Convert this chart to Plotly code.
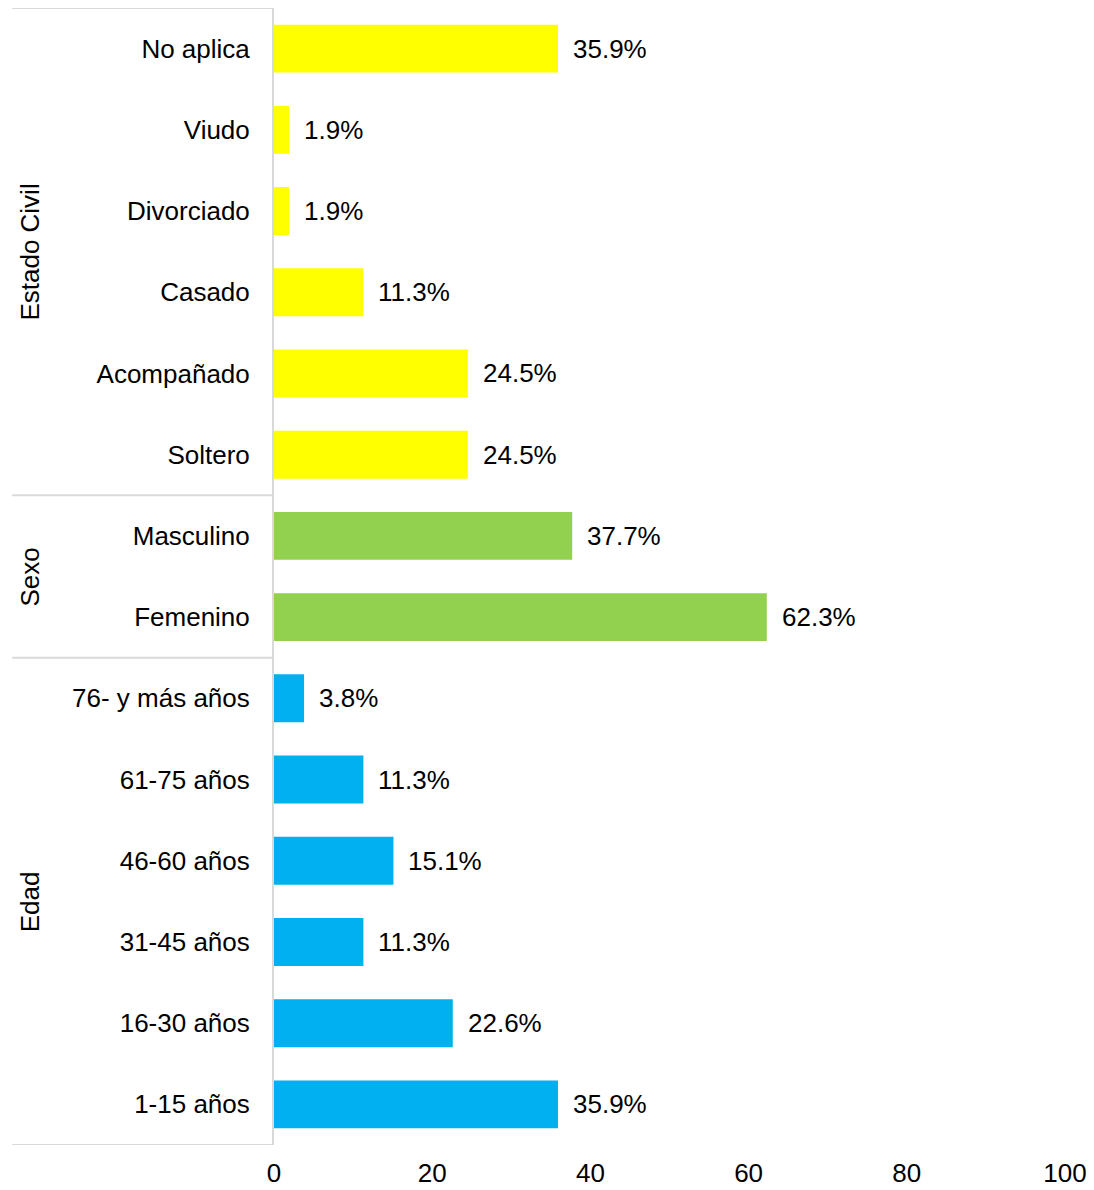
import plotly.graph_objects as go

# Categories listed bottom-to-top, grouped by variable
edad_labels = ["1-15 años", "16-30 años", "31-45 años", "46-60 años", "61-75 años", "76- y más años"]
edad_values = [35.9, 22.6, 11.3, 15.1, 11.3, 3.8]

sexo_labels = ["Femenino", "Masculino"]
sexo_values = [62.3, 37.7]

civil_labels = ["Soltero", "Acompañado", "Casado", "Divorciado", "Viudo", "No aplica"]
civil_values = [24.5, 24.5, 11.3, 1.9, 1.9, 35.9]

x_ticks = [0, 20, 40, 60, 80, 100]

groups = [
    ("Edad", edad_labels, edad_values, "#00B0F0"),
    ("Sexo", sexo_labels, sexo_values, "#92D050"),
    ("Estado Civil", civil_labels, civil_values, "#FFFF00"),
]

FONT = "Liberation Sans, Arial, sans-serif"
FS = 26
all_labels = edad_labels + sexo_labels + civil_labels

fig = go.Figure()
annotations = []
shapes = []
start = 0
for name, labels, values, color in groups:
    fig.add_trace(go.Bar(
        y=labels, x=values, orientation="h",
        marker=dict(color=color, line=dict(width=0)),
        width=0.59, showlegend=False, hoverinfo="x+y",
    ))
    for lab, val in zip(labels, values):
        annotations.append(dict(
            x=val, y=lab, xref="x", yref="y", text=f"{val:.1f}%",
            showarrow=False, xanchor="left", xshift=13,
            font=dict(family=FONT, size=FS, color="#000000"),
        ))
    end = start + len(labels)
    # group title, rotated, centred on its block of categories
    annotations.append(dict(
        x=-0.330, y=(start + end - 1) / 2, xref="paper", yref="y",
        text=name, textangle=-90, showarrow=False,
        font=dict(family=FONT, size=FS, color="#000000"),
    ))
    start = end

# separator lines between the groups in the category-label area
for ypos in [-0.5, 5.5, 7.5, 13.5]:
    shapes.append(dict(
        type="line", xref="paper", yref="y", x0=-0.331, x1=0,
        y0=ypos, y1=ypos, line=dict(color="#D9D9D9", width=2),
    ))

fig.update_layout(
    width=1094, height=1190,
    margin=dict(l=274, r=29, t=8, b=45, autoexpand=False),
    paper_bgcolor="white", plot_bgcolor="white",
    font=dict(family=FONT, size=FS, color="#000000"),
    annotations=annotations, shapes=shapes,
    xaxis=dict(
        range=[0, 100], tickvals=x_ticks, showgrid=False, zeroline=False,
        showline=False, ticks="", ticklabelstandoff=10, automargin=False,
        tickfont=dict(family=FONT, size=FS, color="#000000"),
    ),
    yaxis=dict(
        categoryorder="array", categoryarray=all_labels,
        range=[-0.5, 13.5], showgrid=False, zeroline=False,
        showline=True, linecolor="#D9D9D9", linewidth=2,
        ticks="", ticklabelstandoff=17, automargin=False,
        tickfont=dict(family=FONT, size=FS, color="#000000"),
    ),
)

fig.write_html("out.html")
